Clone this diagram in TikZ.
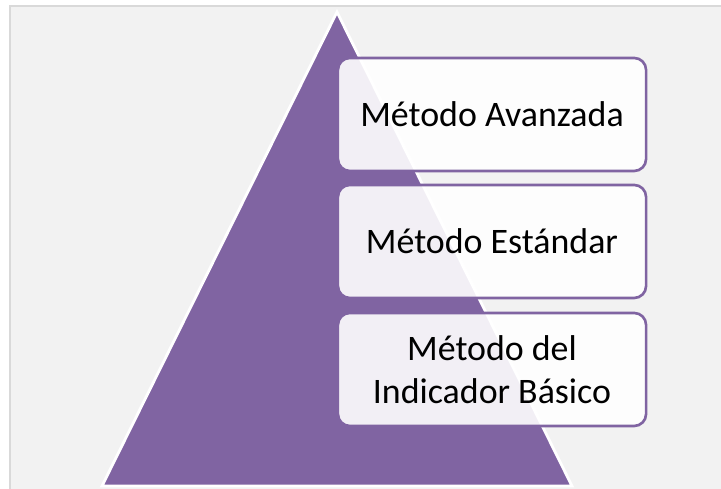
\documentclass[tikz,border=0pt]{standalone}
\usepackage{fontspec}
\setmainfont{Carlito}
\usetikzlibrary{positioning}
\definecolor{lila}{RGB}{128,100,162}
\definecolor{panel}{RGB}{242,242,242}
\definecolor{rand}{RGB}{217,217,217}

\begin{document}
\begin{tikzpicture}[x=0.01cm,y=-0.01cm,
  metodo/.style={draw=lila,line width=0.75pt,rounded corners=0.12cm,fill=white,fill opacity=0.9,text opacity=1,
    minimum width=3.08cm,minimum height=1.13cm,align=center,font=\fontsize{10.2}{12.2}\selectfont}]
\useasboundingbox (0,0) rectangle (721,489);

% fondo
\fill[white] (0,0) rectangle (721,489);
\fill[panel] (10,6) rectangle (721,489);
\draw[rand,line width=0.6pt] (10,489) -- (10,6) -- (721,6);

% piramide
\coordinate (top) at (337,12);
\coordinate (bl) at (102,486);
\coordinate (br) at (572,486);
\draw[white,line width=0.8pt,fill=lila] (top) -- (br) -- (bl) -- cycle;

\node[metodo] (a) at (492,114.5) {Método Avanzada};
\node[metodo] (b) at (492,241.5) {Método Estándar};
\node[metodo] (c) at (492,369.5) {Método del\\Indicador Básico};

\end{tikzpicture}
\end{document}
